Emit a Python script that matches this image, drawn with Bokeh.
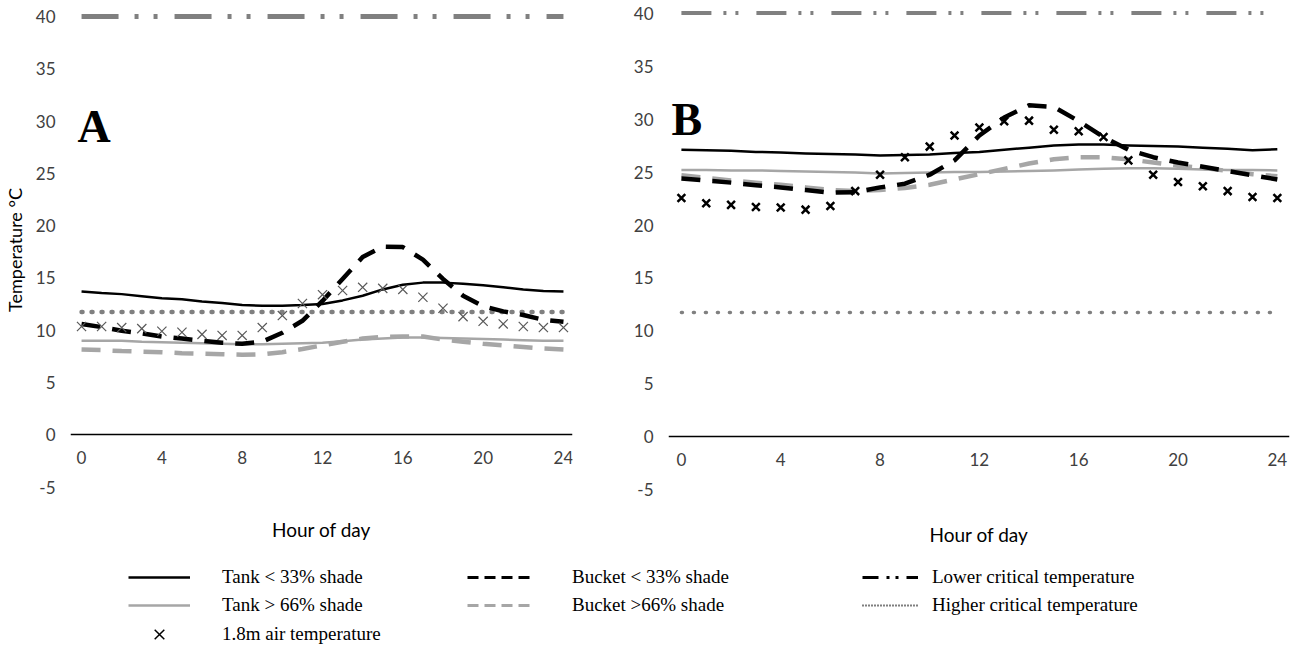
from bokeh.plotting import figure
from bokeh.models import Range1d, FixedTicker, Label, Title, Legend, LegendItem
from bokeh.layouts import column, row
from bokeh.embed import file_html
from bokeh.resources import INLINE

hours = list(range(25))
x_ticks = [0, 4, 8, 12, 16, 20, 24]
y_ticks = [-5, 0, 5, 10, 15, 20, 25, 30, 35, 40]

lower_critical = 40
higher_critical = 11.75

# Panel A
a_tank_low = [13.7, 13.55, 13.45, 13.25, 13.05, 12.95, 12.75, 12.6, 12.4, 12.35, 12.35, 12.4, 12.5,
              12.85, 13.3, 13.9, 14.35, 14.55, 14.55, 14.45, 14.3, 14.1, 13.9, 13.75, 13.7]
a_tank_high = [9.0, 9.0, 9.0, 8.9, 8.85, 8.8, 8.75, 8.7, 8.65, 8.65, 8.7, 8.75, 8.8,
               8.95, 9.1, 9.2, 9.3, 9.3, 9.25, 9.2, 9.15, 9.1, 9.05, 9.0, 9.0]
a_bucket_low = [10.6, 10.3, 9.95, 9.7, 9.4, 9.2, 9.0, 8.8, 8.7, 8.9, 9.75, 10.9, 12.8,
                14.9, 17.0, 18.0, 17.95, 16.75, 14.9, 13.3, 12.3, 11.8, 11.45, 11.0, 10.8]
a_bucket_high = [8.15, 8.1, 8.0, 7.95, 7.9, 7.8, 7.75, 7.7, 7.65, 7.7, 7.9, 8.2, 8.55,
                 8.9, 9.2, 9.35, 9.4, 9.4, 9.1, 8.9, 8.7, 8.55, 8.4, 8.25, 8.15]
a_air = [10.35, 10.35, 10.25, 10.15, 9.9, 9.8, 9.6, 9.5, 9.5, 10.25, 11.4, 12.55, 13.4,
         13.8, 14.1, 14.0, 13.9, 13.15, 12.1, 11.3, 10.85, 10.6, 10.35, 10.25, 10.25]

# Panel B
b_tank_low = [27.1, 27.05, 27.0, 26.9, 26.85, 26.75, 26.7, 26.65, 26.55, 26.6, 26.65, 26.8, 26.9,
              27.1, 27.3, 27.5, 27.6, 27.6, 27.5, 27.45, 27.4, 27.3, 27.2, 27.05, 27.15]
b_tank_high = [25.2, 25.2, 25.15, 25.15, 25.1, 25.05, 25.0, 24.95, 24.85, 24.9, 24.95, 25.0, 25.0,
               25.05, 25.1, 25.15, 25.25, 25.3, 25.35, 25.35, 25.3, 25.25, 25.2, 25.2, 25.15]
b_bucket_low = [24.4, 24.2, 24.0, 23.75, 23.55, 23.3, 23.05, 23.1, 23.55, 23.9, 24.75, 26.1, 28.45,
                30.15, 31.3, 31.15, 29.8, 28.3, 27.1, 26.4, 25.9, 25.5, 25.1, 24.7, 24.3]
b_bucket_high = [24.7, 24.45, 24.2, 24.0, 23.8, 23.55, 23.3, 23.2, 23.3, 23.5, 23.8, 24.3, 24.8,
                 25.3, 25.8, 26.2, 26.4, 26.4, 26.2, 25.9, 25.6, 25.4, 25.1, 24.8, 24.6]
b_air = [22.55, 22.05, 21.9, 21.7, 21.65, 21.45, 21.8, 23.2, 24.75, 26.4, 27.4, 28.45, 29.2,
         29.8, 29.85, 29.0, 28.85, 28.3, 26.1, 24.75, 24.05, 23.65, 23.2, 22.65, 22.55]

x_title = "Hour of day"
y_title = "Temperature °C"
legend_labels = ["Tank < 33% shade", "Tank > 66% shade", "1.8m air temperature",
                 "Bucket < 33% shade", "Bucket >66% shade",
                 "Lower critical temperature", "Higher critical temperature"]

TICK_FONT = "Lato"
BLACK = "#000000"
GREY = "#a6a6a6"
CRIT = "#808080"


def make_panel(fw, fh, xr, yr, border_left, border_right, border_top, border_bottom,
               ylabel, letter, letter_x, letter_y, tl, th, bl, bh, air, air_color, air_w, air_size,
               crit_dash, crit_w, dot_dash, dot_w, title_standoff):
    p = figure(frame_width=fw, frame_height=fh, x_range=Range1d(*xr), y_range=Range1d(*yr),
               output_backend="svg", toolbar_location=None,
               min_border_left=border_left, min_border_right=border_right,
               min_border_top=border_top, min_border_bottom=border_bottom)
    p.outline_line_color = None
    p.grid.visible = False
    p.background_fill_color = "white"
    p.border_fill_color = "white"

    ya = p.yaxis[0]
    ya.ticker = FixedTicker(ticks=y_ticks)
    ya.major_label_overrides = {-5: "-5"}
    ya.axis_line_color = None
    ya.major_tick_line_color = None
    ya.minor_tick_line_color = None
    ya.major_tick_out = 0
    ya.major_tick_in = 0
    ya.major_label_standoff = 15
    ya.major_label_text_font = TICK_FONT
    ya.major_label_text_font_size = "17px"
    ya.major_label_text_color = "#404040"
    if ylabel:
        ya.axis_label = ylabel
        ya.axis_label_text_font = TICK_FONT
        ya.axis_label_text_font_size = "18px"
        ya.axis_label_text_font_style = "normal"
        ya.axis_label_text_color = "#000000"
        ya.axis_label_standoff = 7

    xa = p.xaxis[0]
    xa.fixed_location = 0
    xa.ticker = FixedTicker(ticks=x_ticks)
    xa.axis_line_color = "#000000"
    xa.axis_line_width = 1.3
    xa.major_tick_line_color = None
    xa.minor_tick_line_color = None
    xa.major_tick_out = 0
    xa.major_tick_in = 0
    xa.major_label_standoff = 16
    xa.major_label_text_font = TICK_FONT
    xa.major_label_text_font_size = "17px"
    xa.major_label_text_color = "#404040"

    t = Title(text=x_title, align="center", text_font=TICK_FONT, text_font_size="19px",
              text_font_style="normal", text_color="#000000", standoff=title_standoff)
    p.add_layout(t, "below")

    p.line(hours, [lower_critical] * len(hours), line_color=CRIT, line_width=crit_w,
           line_dash=crit_dash)
    p.line(hours, [higher_critical] * len(hours), line_color=CRIT, line_width=dot_w,
           line_dash=dot_dash, line_cap="round")
    p.line(hours, th, line_color=GREY, line_width=2.5, line_join="round")
    p.line(hours, bh, line_color=GREY, line_width=4.5, line_dash="19 12", line_join="round")
    p.line(hours, tl, line_color=BLACK, line_width=2.5, line_join="round")
    p.line(hours, bl, line_color=BLACK, line_width=4.5, line_dash="19 12", line_join="round")
    p.scatter(hours, air, marker="x", size=air_size, line_color=air_color, line_width=air_w)

    p.add_layout(Label(x=letter_x, y=letter_y, text=letter, text_font="Liberation Serif",
                       text_font_style="bold", text_font_size="46px", text_baseline="middle",
                       text_align="left", text_color="#000000"))
    return p


pA = make_panel(502, 495, (-0.55, 24.45), (-6, 41.34), 70, 28, 2, 65,
                y_title, "A", -0.2, 29.5,
                a_tank_low, a_tank_high, a_bucket_low, a_bucket_high, a_air,
                "#595959", 1.2, 13, "37 16 4 15 4 17", 5, "1 9", 4.5, 36)
pB = make_panel(621, 498, (-0.52, 24.49), (-6, 41.0), 68, 8, 0, 64,
                None, "B", -0.4, 30.0,
                b_tank_low, b_tank_high, b_bucket_low, b_bucket_high, b_air,
                "#000000", 2.5, 11, "30 12 3 9 3 18", 4, "1 11", 3.5, 41)

# Legend figure (samples drawn from real series, kept outside its visible range)
pL = figure(width=1297, height=94, x_range=Range1d(0, 1), y_range=Range1d(100, 101),
            output_backend="svg", toolbar_location=None,
            min_border_left=0, min_border_right=0, min_border_top=0, min_border_bottom=0,
            x_axis_type=None, y_axis_type=None)
pL.outline_line_color = None
pL.grid.visible = False

r_tl = pL.line(hours, a_tank_low, line_color=BLACK, line_width=2.5)
r_th = pL.line(hours, a_tank_high, line_color=GREY, line_width=2.5)
r_air = pL.scatter(hours, a_air, marker="x", size=15, line_color=BLACK, line_width=1.5)
r_bl = pL.line(hours, a_bucket_low, line_color=BLACK, line_width=3, line_dash="11 6")
r_bh = pL.line(hours, a_bucket_high, line_color=GREY, line_width=3, line_dash="11 6")
r_lc = pL.line(hours, [lower_critical] * len(hours), line_color=BLACK, line_width=3,
               line_dash="16 8 3 6 3 8")
r_hc = pL.line(hours, [higher_critical] * len(hours), line_color=BLACK, line_width=2,
               line_dash="1 2")


def mk_legend(items, loc, gw, standoff, gh=20):
    return Legend(items=items, location=loc, orientation="vertical", padding=0, margin=0,
                  spacing=6, glyph_width=gw, glyph_height=gh, label_height=20,
                  label_standoff=standoff, border_line_color=None, background_fill_alpha=0,
                  label_text_font="Liberation Serif", label_text_font_size="19px",
                  label_text_color="#000000")


leg1 = mk_legend([LegendItem(label=legend_labels[0], renderers=[r_tl]),
                  LegendItem(label=legend_labels[1], renderers=[r_th])], (128, 42), 62, 32)
leg1b = mk_legend([LegendItem(label=legend_labels[2], renderers=[r_air])], (128, 7), 62, 32, gh=34)
leg2 = mk_legend([LegendItem(label=legend_labels[3], renderers=[r_bl]),
                  LegendItem(label=legend_labels[4], renderers=[r_bh])], (467, 42), 68, 37)
leg3 = mk_legend([LegendItem(label=legend_labels[5], renderers=[r_lc]),
                  LegendItem(label=legend_labels[6], renderers=[r_hc])], (862, 42), 56, 14)
for lg in (leg1, leg1b, leg2, leg3):
    pL.add_layout(lg, "center")

layout = column(row(pA, pB), pL)

open("out.html", "w").write(file_html(layout, INLINE))
